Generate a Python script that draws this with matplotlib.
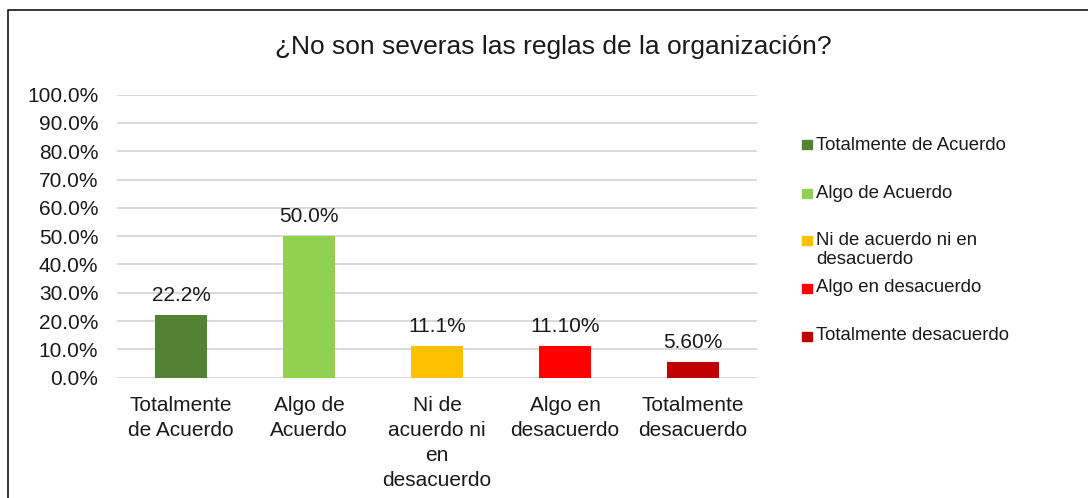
import numpy as np
import matplotlib.pyplot as plt
from matplotlib.patches import Rectangle
from matplotlib.lines import Line2D

plt.rcParams['font.family'] = ['Liberation Sans', 'DejaVu Sans']

# datos
categorias = ["Totalmente de Acuerdo", "Algo de Acuerdo", "Ni de acuerdo ni en desacuerdo",
              "Algo en desacuerdo", "Totalmente desacuerdo"]
etiquetas_x = ["Totalmente\nde Acuerdo", "Algo de\nAcuerdo", "Ni de\nacuerdo ni\nen\ndesacuerdo",
               "Algo en\ndesacuerdo", "Totalmente\ndesacuerdo"]
etiquetas_leyenda = ["Totalmente de Acuerdo", "Algo de Acuerdo", "Ni de acuerdo ni en\ndesacuerdo",
                     "Algo en desacuerdo", "Totalmente desacuerdo"]
valores = [22.2, 50.0, 11.1, 11.1, 5.6]
etiquetas_valor = ["22.2%", "50.0%", "11.1%", "11.10%", "5.60%"]
colores = ["#548235", "#92D050", "#FFC000", "#FF0000", "#C00000"]
yticks = np.arange(0, 101, 10)

W, H = 1088, 498
fig = plt.figure(figsize=(W / 100, H / 100), dpi=100)
ax = fig.add_axes([117 / W, 1 - 377.7 / H, 640 / W, 283 / H])

x = np.arange(len(valores))
ax.bar(x, valores, width=0.4, color=colores, zorder=3)
for xi, v, lab in zip(x, valores, etiquetas_valor):
    ax.text(xi, v + 3.6, lab, ha='center', va='bottom', fontsize=15, color='#1a1a1a')

ax.set_xlim(-0.5, 4.5)
ax.set_ylim(0, 100)
ax.set_yticks(yticks)
ax.set_yticklabels([f"{t:.1f}%" for t in yticks])
ax.set_xticks(x)
ax.set_xticklabels(etiquetas_x, linespacing=1.4)
ax.tick_params(axis='y', length=0, pad=13.5, labelsize=15, labelcolor='#1a1a1a')
ax.tick_params(axis='x', length=0, pad=13, labelsize=15, labelcolor='#1a1a1a')
ax.grid(axis='y', color='#D9D9D9', lw=1.4, zorder=0)
for s in ax.spines.values():
    s.set_visible(False)

fig.text(553.5 / W, 1 - 47 / H, "¿No son severas las reglas de la organización?",
         ha='center', va='center', fontsize=19, color='#1a1a1a')

# leyenda
filas = [145, 193, 241, 288, 336]
for yy, col, lab in zip(filas, colores, etiquetas_leyenda):
    fig.add_artist(Rectangle((802 / W, 1 - (yy + 4.5) / H), 9.5 / W, 9 / H,
                             transform=fig.transFigure, color=col))
    if '\n' in lab:
        fig.text(816 / W, 1 - (yy - 9) / H, lab, ha='left', va='top',
                 fontsize=13.4, color='#1a1a1a', linespacing=1.12)
    else:
        fig.text(816 / W, 1 - yy / H, lab, ha='left', va='center',
                 fontsize=13.4, color='#1a1a1a')

# marco
fig.add_artist(Line2D([8 / W, 8 / W, 1.02], [-0.05, 1 - 10 / H, 1 - 10 / H],
                      transform=fig.transFigure, color='#262626', lw=1.3))

plt.savefig("out.png", dpi=100)
